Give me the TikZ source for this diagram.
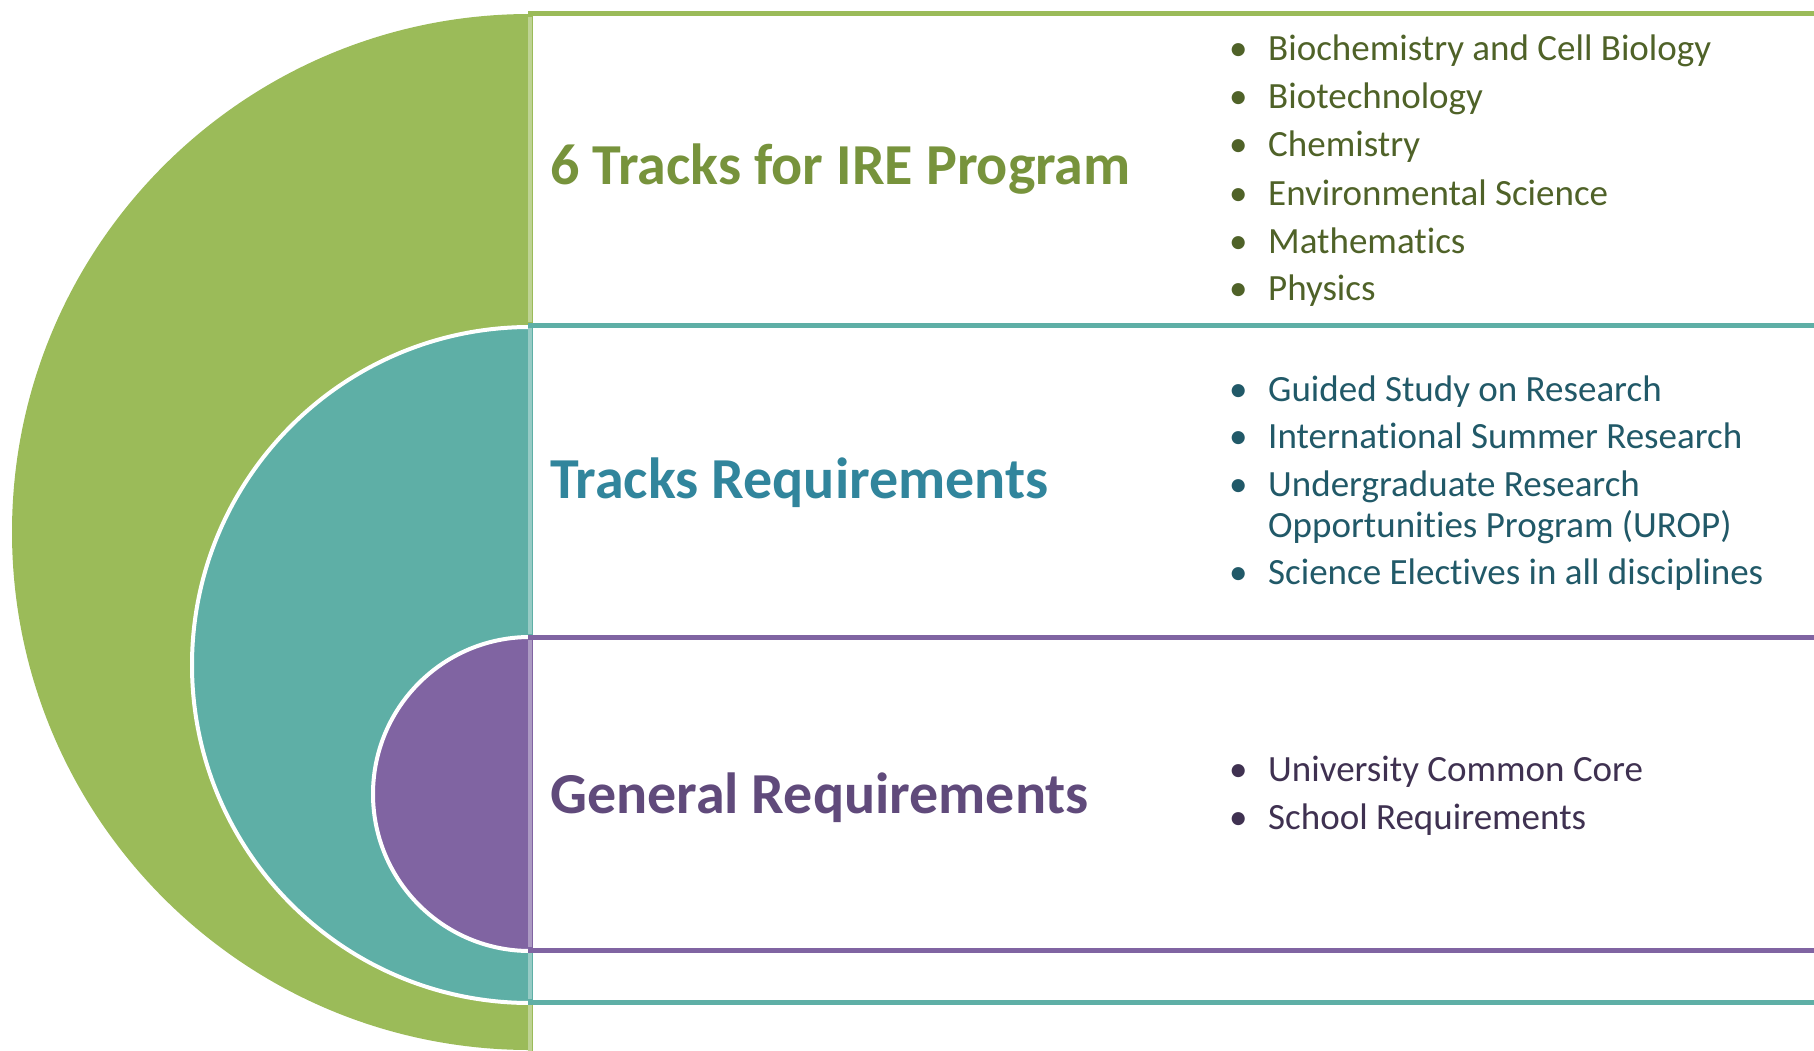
\documentclass[tikz,border=0pt]{standalone}
\usepackage{fontspec}
\setmainfont[RawFeature={-liga;-clig;-calt;-dlig}]{Carlito}
\definecolor{gfill}{HTML}{9BBB59}
\definecolor{gtitle}{HTML}{77933C}
\definecolor{gtext}{HTML}{4F6228}
\definecolor{tfill}{HTML}{5EAFA6}
\definecolor{ttitle}{HTML}{31859C}
\definecolor{ttext}{HTML}{215968}
\definecolor{pfill}{HTML}{8064A2}
\definecolor{ptitle}{HTML}{604A7B}
\definecolor{ptext}{HTML}{3F3151}
\begin{document}
\begin{tikzpicture}[x=1pt,y=-1pt,
  title/.style={anchor=base west, inner sep=0pt, font=\fontsize{58}{70}\selectfont\bfseries},
  item/.style={anchor=base west, inner sep=0pt, font=\fontsize{37}{40.5}\selectfont},
  box/.style={line width=5pt, fill=white}]
\useasboundingbox (0,0) rectangle (1814,1051);
\clip (0,0) rectangle (1814,1051);
% green level
\fill[gfill] (530,14) arc[start angle=90, end angle=270, radius=518pt] -- cycle;
\draw[box, draw=gfill] (1830,14) -- (530,14) -- (530,1100);
% teal level
\fill[tfill] (530,327) arc[start angle=90, end angle=270, radius=338pt] -- cycle;
\draw[white, line width=4pt] (530,327) arc[start angle=90, end angle=270, radius=338pt];
\draw[box, draw=tfill] (1830,325) -- (530,325) -- (530,1002) -- (1830,1002);
% purple level
\fill[pfill] (530,637) arc[start angle=90, end angle=270, radius=157pt] -- cycle;
\draw[white, line width=4pt] (530,637) arc[start angle=90, end angle=270, radius=157pt];
\draw[box, draw=pfill] (1830,637) -- (530,637) -- (530,950) -- (1830,950);
% light left edges
\draw[gfill!65!white, line width=4pt] (530,17) -- (530,322);
\draw[gfill!65!white, line width=4pt] (530,1005) -- (530,1051);
\draw[tfill!65!white, line width=4pt] (530,328) -- (530,634);
\draw[tfill!65!white, line width=4pt] (530,953) -- (530,999);
\draw[pfill!65!white, line width=4pt] (530,640) -- (530,947);
% titles
\node[title, text=gtitle] (tG) at (550,185) {6 Tracks for IRE Program};
\node[title, text=ttitle] (tT) at (550,498) {Tracks Requirements};
\node[title, text=ptitle] (tP) at (550,813) {General Requirements};
% green items
\node[item, text=gtext] (g1) at (1229,61) {\makebox[39pt][l]{•}Biochemistry and Cell Biology};
\node[item, text=gtext] (g2) at (1229,109) {\makebox[39pt][l]{•}Biotechnology};
\node[item, text=gtext] (g3) at (1229,157) {\makebox[39pt][l]{•}Chemistry};
\node[item, text=gtext] (g4) at (1229,205) {\makebox[39pt][l]{•}Environmental Science};
\node[item, text=gtext] (g5) at (1229,253) {\makebox[39pt][l]{•}Mathematics};
\node[item, text=gtext] (g6) at (1229,300) {\makebox[39pt][l]{•}Physics};
% teal items
\node[item, text=ttext] (t1) at (1229,401) {\makebox[39pt][l]{•}Guided Study on Research};
\node[item, text=ttext] (t2) at (1229,448.5) {\makebox[39pt][l]{•}International Summer Research};
\node[item, text=ttext] (t3) at (1229,496.5) {\makebox[39pt][l]{•}\parbox[t]{500pt}{Undergraduate Research\\Opportunities Program (UROP)}};
\node[item, text=ttext] (t4) at (1229,584.5) {\makebox[39pt][l]{•}Science Electives in all disciplines};
% purple items
\node[item, text=ptext] (p1) at (1229,781) {\makebox[39pt][l]{•}University Common Core};
\node[item, text=ptext] (p2) at (1229,829.5) {\makebox[39pt][l]{•}School Requirements};
\end{tikzpicture}
\end{document}
